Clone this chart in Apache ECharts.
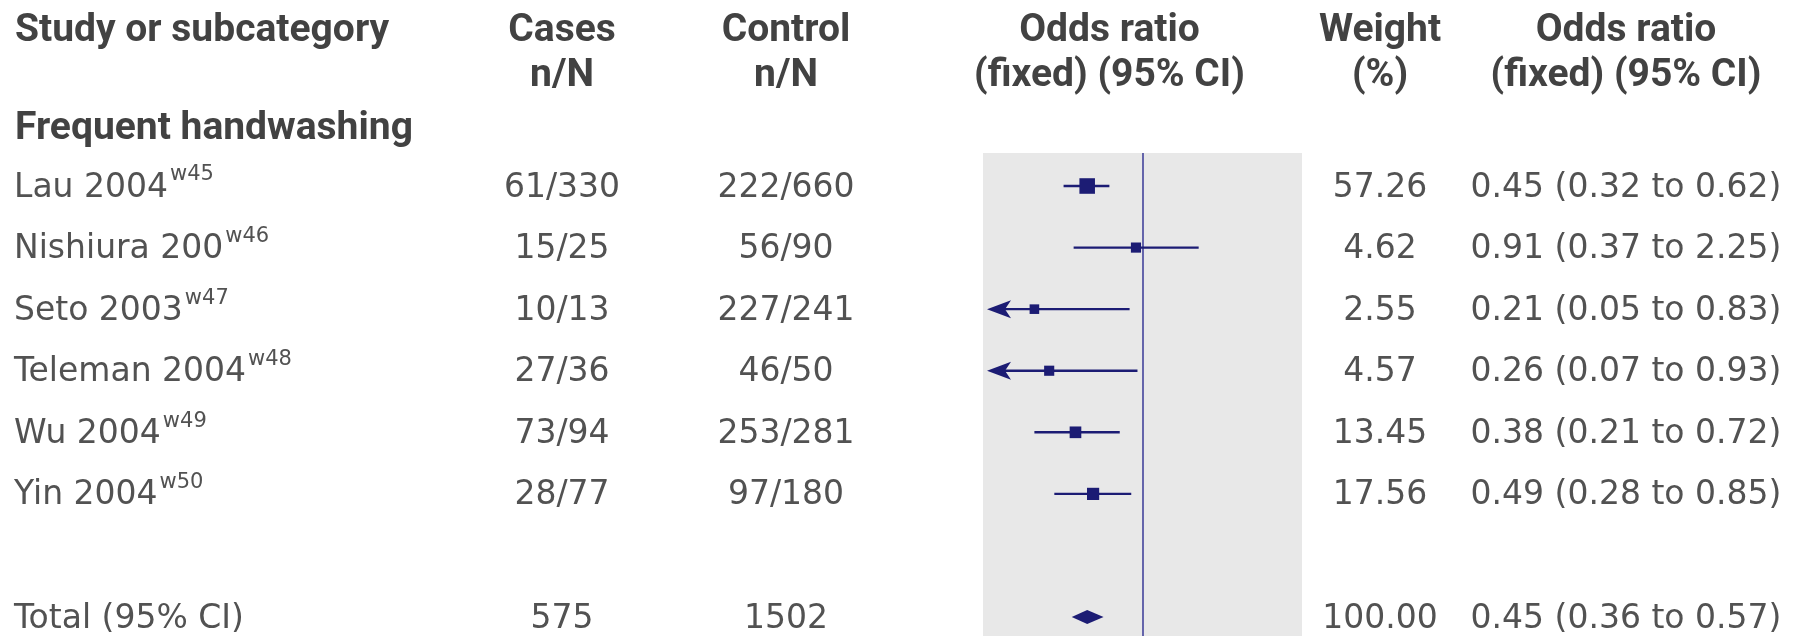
<!DOCTYPE html>
<html>
<head>
<meta charset="utf-8">
<script src="https://cdn.jsdelivr.net/npm/echarts@6/dist/echarts.min.js"></script>
<style>
  html, body { margin: 0; padding: 0; background: #ffffff; }
  #chart { width: 1801px; height: 636px; }
</style>
</head>
<body>
<div id="chart"></div>
<script>
// ---- Table content ----
const headLine1 = ['Study or subcategory', 'Cases', 'Control', 'Odds ratio', 'Weight', 'Odds ratio'];
const headLine2 = ['', 'n/N', 'n/N', '(fixed) (95% CI)', '(%)', '(fixed) (95% CI)'];
const groupLabel = 'Frequent handwashing';

const studies  = ['Lau 2004', 'Nishiura 200', 'Seto 2003', 'Teleman 2004', 'Wu 2004', 'Yin 2004'];
const refs     = ['w45', 'w46', 'w47', 'w48', 'w49', 'w50'];
const cases    = ['61/330', '15/25', '10/13', '27/36', '73/94', '28/77'];
const controls = ['222/660', '56/90', '227/241', '46/50', '253/281', '97/180'];
const weights  = [57.26, 4.62, 2.55, 4.57, 13.45, 17.56];
const oddsRatio = [0.45, 0.91, 0.21, 0.26, 0.38, 0.49];
const ciLow    = [0.32, 0.37, 0.05, 0.07, 0.21, 0.28];
const ciHigh   = [0.62, 2.25, 0.83, 0.93, 0.72, 0.85];

const totalLabel   = 'Total (95% CI)';
const totalCases   = '575';
const totalControl = '1502';
const totalWeight  = 100.00;
const totalOR      = 0.45;
const totalLow     = 0.36;
const totalHigh    = 0.57;

// ---- Layout & style ----
const AXIS_MIN = 0.1, AXIS_MAX = 10;
const TOTAL_ROW = 7, GROUP_ROW = -1;
const colX = { label: 14, cases: 562, control: 786, plot: 1109.5, weight: 1380, ci: 1626 };
const headY = [31, 76];
const TEXT_DY = 2;
const NAVY = '#1c1c74';
const BODY_FONT = 'DejaVu Sans';
const HEAD_FONT = 'Roboto';
const BODY_COLOR = '#525252';
const HEAD_COLOR = '#424242';

const measureCtx = document.createElement('canvas').getContext('2d');
function textWidth(str, font) { measureCtx.font = font; return measureCtx.measureText(str).width; }

function fmtCI(or, lo, hi) {
  return or.toFixed(2) + ' (' + lo.toFixed(2) + ' to ' + hi.toFixed(2) + ')';
}

function bodyText(text, x, y, align) {
  return { type: 'text', x: x, y: y, style: {
    text: text, fill: BODY_COLOR, fontSize: 33, fontFamily: BODY_FONT,
    align: align, verticalAlign: 'middle' } };
}

// Text rows: [x (unused, >0 for log axis), row, kind, index]
const textRows = studies.map((s, i) => [1, i, 0, i]);
textRows.push([1, TOTAL_ROW, 1, 0]);
textRows.push([1, GROUP_ROW, 2, 0]);

function renderTextRow(params, api) {
  const row = api.value(1), kind = api.value(2), i = api.value(3);
  const y = api.coord([1, row])[1] + TEXT_DY;
  if (kind === 2) {
    return { type: 'text', x: colX.label + 1, y: y + 3, style: {
      text: groupLabel, fill: HEAD_COLOR, fontSize: 39, fontWeight: 'bold',
      fontFamily: HEAD_FONT, align: 'left', verticalAlign: 'middle' } };
  }
  const children = [];
  if (kind === 0) {
    const w = textWidth(studies[i], '33px "' + BODY_FONT + '"');
    children.push(bodyText(studies[i], colX.label, y, 'left'));
    children.push({ type: 'text', x: colX.label + w + 2, y: y - 13, style: {
      text: refs[i], fill: BODY_COLOR, fontSize: 21, fontFamily: BODY_FONT,
      align: 'left', verticalAlign: 'middle' } });
    children.push(bodyText(cases[i], colX.cases, y, 'center'));
    children.push(bodyText(controls[i], colX.control, y, 'center'));
    children.push(bodyText(weights[i].toFixed(2), colX.weight, y, 'center'));
    children.push(bodyText(fmtCI(oddsRatio[i], ciLow[i], ciHigh[i]), colX.ci, y, 'center'));
  } else {
    children.push(bodyText(totalLabel, colX.label, y, 'left'));
    children.push(bodyText(totalCases, colX.cases, y, 'center'));
    children.push(bodyText(totalControl, colX.control, y, 'center'));
    children.push(bodyText(totalWeight.toFixed(2), colX.weight, y, 'center'));
    children.push(bodyText(fmtCI(totalOR, totalLow, totalHigh), colX.ci, y, 'center'));
  }
  return { type: 'group', children: children };
}

// Study estimates: square sized by weight, CI whisker, arrow when CI leaves the axis
const studyData = studies.map((s, i) => [oddsRatio[i], i, ciLow[i], ciHigh[i], weights[i]]);

function renderStudy(params, api) {
  const row = api.value(1);
  const y = api.coord([1, row])[1];
  const lo = api.value(2), hi = api.value(3);
  const clipped = lo < AXIS_MIN;
  const xMin = api.coord([AXIS_MIN, row])[0];
  const xLo = clipped ? xMin + 4 : api.coord([lo, row])[0];
  const xHi = api.coord([hi, row])[0];
  const xc = api.coord([api.value(0), row])[0];
  const size = 8 + Math.sqrt(api.value(4));
  const children = [
    { type: 'line', shape: { x1: xLo + (clipped ? 6 : 0), y1: y, x2: xHi, y2: y },
      style: { stroke: NAVY, lineWidth: 2.4 } }
  ];
  if (clipped) {
    children.push({ type: 'polygon', shape: { points: [[xLo, y], [xLo + 24, y - 9], [xLo + 18, y], [xLo + 24, y + 9]] },
      style: { fill: NAVY } });
  }
  children.push({ type: 'rect', shape: { x: xc - size / 2, y: y - size / 2, width: size, height: size },
    style: { fill: NAVY } });
  return { type: 'group', children: children };
}

function renderTotal(params, api) {
  const row = api.value(1);
  const y = api.coord([1, row])[1];
  const xl = api.coord([api.value(2), row])[0];
  const xr = api.coord([api.value(3), row])[0];
  const xc = api.coord([api.value(0), row])[0];
  return { type: 'polygon', shape: { points: [[xl, y], [xc, y - 7], [xr, y], [xc, y + 7]] },
    style: { fill: NAVY } };
}

// Column headings
const headGraphics = [];
const headX = [colX.label + 1, colX.cases, colX.control, colX.plot, colX.weight, colX.ci];
headLine1.forEach((t, k) => {
  [t, headLine2[k]].forEach((line, j) => {
    if (!line) return;
    headGraphics.push({ type: 'text', x: headX[k], y: headY[j], silent: true, style: {
      text: line, fill: HEAD_COLOR, fontSize: 39, fontWeight: 'bold', fontFamily: HEAD_FONT,
      align: k === 0 ? 'left' : 'center', verticalAlign: 'middle' } });
  });
});

const chart = echarts.init(document.getElementById('chart'), null, { renderer: 'canvas' });
chart.setOption({
  animation: false,
  backgroundColor: '#ffffff',
  grid: { left: 983, right: 499, top: 153, bottom: 0, show: true,
          backgroundColor: '#e8e8e8', borderWidth: 0 },
  xAxis: { type: 'log', logBase: 10, min: AXIS_MIN, max: AXIS_MAX, show: false },
  yAxis: { type: 'value', inverse: true, min: -0.536, max: 7.308, show: false },
  graphic: headGraphics,
  series: [
    {
      type: 'custom', name: 'studies', data: studyData, renderItem: renderStudy,
      encode: { x: 0, y: 1 }, z: 3,
      markLine: {
        silent: true, symbol: 'none', label: { show: false },
        lineStyle: { color: '#5656a4', width: 1.8, type: 'solid' },
        data: [{ xAxis: 1 }], z: 2
      }
    },
    {
      type: 'custom', name: 'total', data: [[totalOR, TOTAL_ROW, totalLow, totalHigh]],
      renderItem: renderTotal, encode: { x: 0, y: 1 }, z: 3
    },
    {
      type: 'custom', name: 'table', data: textRows, renderItem: renderTextRow,
      encode: { x: 0, y: 1 }, z: 4
    }
  ]
});
</script>
</body>
</html>
